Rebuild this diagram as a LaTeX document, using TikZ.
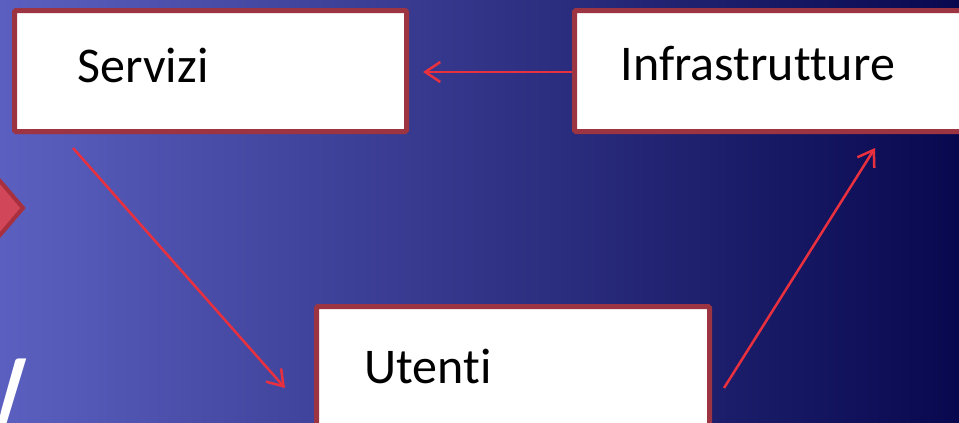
\documentclass[tikz,border=0pt]{standalone}
\usepackage{fontspec}
\setmainfont{Carlito}[Ligatures={NoCommon}]
\usetikzlibrary{arrows.meta}

\definecolor{bgleft}{HTML}{5B60C0}
\definecolor{bgright}{HTML}{08084F}
\definecolor{boxred}{HTML}{9C3441}
\definecolor{arrred}{HTML}{E8303F}
\definecolor{diafill}{HTML}{D2465A}
\definecolor{diadraw}{HTML}{A82F3E}

\begin{document}
\begin{tikzpicture}[
  x=1pt, y=-1pt,
  every node/.style={font=\fontsize{50}{60}\selectfont},
  blok/.style={draw=boxred, line width=5pt, fill=white, rounded corners=1.5pt,
    align=left, inner ysep=0pt, anchor=north west},
  arr/.style={draw=arrred, line width=2.5pt, -{Straight Barb[length=15pt,width=20pt]}}
]
% background:
\useasboundingbox (0,0) rectangle (959,423);
\shade [left color=bgleft, right color=bgright] (0,0) rectangle (959,423);

% bits of the slide cut off at the left
\filldraw [fill=diafill, draw=diadraw, line width=4pt]
  (-25,208) -- (0,181) -- (23,208) -- (0,235) -- cycle;
\node [anchor=base west, inner sep=0pt, text=white,
  font=\fontsize{110}{120}\selectfont] (cut) at (-71,429) {W};

% the three boxes:
\node [blok, inner xsep=63pt, text width=266pt, text height=71.5pt, text depth=49.5pt]
  (serv) at (12,8) {Servizi};
\node [blok, inner xsep=46pt, text width=368pt, text height=69.5pt, text depth=51.5pt]
  (infra) at (572,8) {Infrastrutture};
\node [blok, inner xsep=48pt, text width=297pt, text height=76.5pt, text depth=80pt]
  (uten) at (314,304) {Utenti};

% the cycle
\draw [arr] ([shift={(0,1)}]infra.west) -- ([shift={(14,1)}]serv.east);
\draw [arr] ([shift={(61,14)}]serv.south west) -- ([shift={(-29,84)}]uten.north west);
\draw [arr] ([shift={(12,84)}]uten.north east) -- ([shift={(303,14)}]infra.south west);

\end{tikzpicture}
\end{document}
